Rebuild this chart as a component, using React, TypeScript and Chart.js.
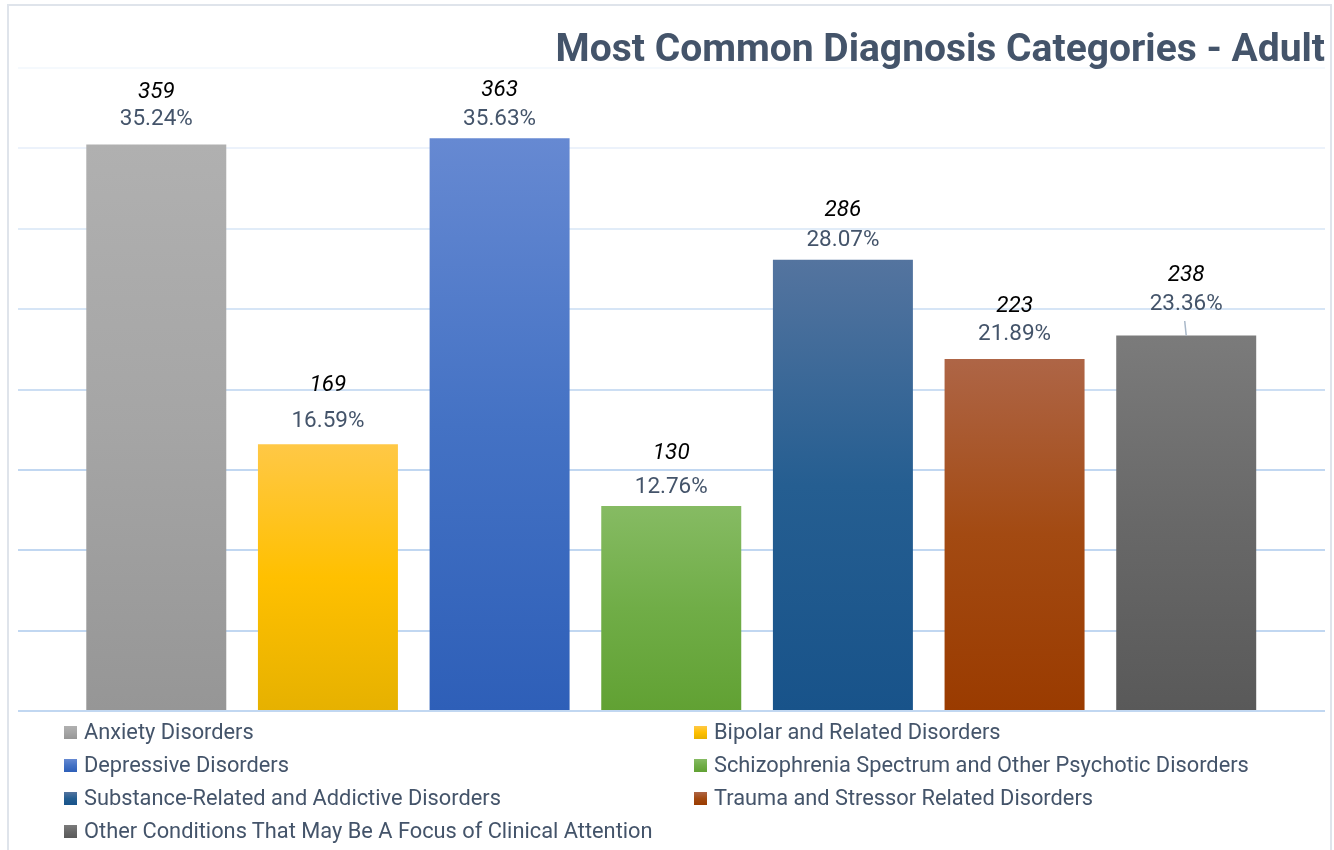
import React, { useEffect, useRef } from "react";
import { Chart, registerables } from "chart.js";

Chart.register(...registerables);

const TITLE = "Most Common Diagnosis Categories - Adult";

const CATEGORIES = [
  "Anxiety Disorders",
  "Bipolar and Related Disorders",
  "Depressive Disorders",
  "Schizophrenia Spectrum and Other Psychotic Disorders",
  "Substance-Related and Addictive Disorders",
  "Trauma and Stressor Related Disorders",
  "Other Conditions That May Be A Focus of Clinical Attention",
];

const COUNTS = [359, 169, 363, 130, 286, 223, 238];
const PERCENTS = [35.24, 16.59, 35.63, 12.76, 28.07, 21.89, 23.36];

const Y_MIN = 0;
const Y_MAX = 40;
const Y_STEP = 5;

// gradient stops per series: [top, middle, bottom]
const GRADIENTS = [
  ["#b0b0b0", "#a5a5a5", "#969696"],
  ["#ffc846", "#ffc000", "#e6b100"],
  ["#6689d2", "#4472c4", "#2e5fb8"],
  ["#86bb63", "#70ad47", "#61a133"],
  ["#54749f", "#255e91", "#18538a"],
  ["#ae6546", "#a34a12", "#9a3b00"],
  ["#7b7b7b", "#686868", "#595959"],
];

// label offsets above bar top (count, percent) in px
const COUNT_OFFSETS = [52.5, 59, 48, 53, 49, 53, 60];
const PCT_OFFSETS = [25.5, 23, 19, 19, 19, 25, 31.5];

const SLATE = "#44546a";
const FONT = "Roboto, 'Open Sans', sans-serif";

const labelPlugin = {
  id: "barLabels",
  afterDatasetsDraw(chart: any) {
    const ctx = chart.ctx;
    ctx.save();
    chart.data.datasets.forEach((_ds: any, i: number) => {
      const meta = chart.getDatasetMeta(i);
      const el = meta.data[0];
      if (!el) return;
      const x = el.x;
      const top = el.y;
      ctx.textAlign = "center";
      ctx.textBaseline = "middle";
      ctx.fillStyle = "#000000";
      ctx.font = `italic 22.5px ${FONT}`;
      ctx.fillText(String(COUNTS[i]), x, top - COUNT_OFFSETS[i]);
      ctx.fillStyle = SLATE;
      ctx.font = `22.5px ${FONT}`;
      ctx.fillText(PERCENTS[i].toFixed(2) + "%", x, top - PCT_OFFSETS[i]);
      if (i === 6) {
        ctx.strokeStyle = "#a9b8c9";
        ctx.lineWidth = 1.5;
        ctx.beginPath();
        ctx.moveTo(x - 1.5, top - 14.5);
        ctx.lineTo(x, top);
        ctx.stroke();
      }
    });
    ctx.restore();
  },
};

function ChartCanvas() {
  const ref = useRef<HTMLCanvasElement | null>(null);
  useEffect(() => {
    if (!ref.current) return;
    const datasets = CATEGORIES.map((name, i) => ({
      label: name,
      data: [PERCENTS[i]],
      borderWidth: 0,
      backgroundColor: (c: any) => {
        const chart = c.chart;
        const ys = chart.scales && chart.scales.y;
        const stops = GRADIENTS[i];
        if (!ys || !chart.chartArea) return stops[1];
        const v = c.raw ?? PERCENTS[i];
        const top = ys.getPixelForValue(v);
        const bottom = ys.getPixelForValue(0);
        const g = chart.ctx.createLinearGradient(0, top, 0, bottom);
        g.addColorStop(0, stops[0]);
        g.addColorStop(0.5, stops[1]);
        g.addColorStop(1, stops[2]);
        return g;
      },
    }));
    const chart = new Chart(ref.current, {
      type: "bar",
      data: { labels: [""], datasets },
      options: {
        responsive: false,
        animation: false,
        devicePixelRatio: 1,
        categoryPercentage: 0.919,
        barPercentage: 0.8155,
        layout: { padding: { left: 17.5, right: 9, top: 68, bottom: 139 } },
        plugins: {
          legend: { display: false },
          title: { display: false },
          tooltip: { enabled: false },
        },
        scales: {
          x: { display: false },
          y: {
            min: Y_MIN,
            max: Y_MAX,
            ticks: { display: false, stepSize: Y_STEP },
            border: { display: false },
            grid: {
              drawTicks: false,
              tickLength: 0,
              lineWidth: 2,
              color: (c: any) => {
                const v = c.tick ? c.tick.value : 0;
                const t = v / Y_MAX;
                const a = v <= 15 ? 0.95 : Math.max(0.15, 0.95 - (t - 0.375) * 1.3);
                return `rgba(190, 213, 240, ${a})`;
              },
            },
          },
        },
      } as any,
      plugins: [labelPlugin],
    });
    return () => chart.destroy();
  }, []);
  return (
    <canvas
      ref={ref}
      width={1334}
      height={850}
      style={{ position: "absolute", left: 0, top: 0, width: 1334, height: 850 }}
    />
  );
}

export default function App() {
  const legendPos = CATEGORIES.map((_c, i) => ({
    left: i % 2 === 0 ? 64 : 694,
    top: 732 + Math.floor(i / 2) * 33,
  }));
  return (
    <div
      style={{
        position: "fixed",
        left: 0,
        top: 0,
        width: 1334,
        height: 850,
        overflow: "hidden",
        background: "#ffffff",
        fontFamily: FONT,
      }}
    >
      <div
        style={{
          position: "absolute",
          left: 7,
          top: 4,
          width: 1321,
          height: 900,
          border: "2px solid #dfe4eb",
        }}
      />
      <ChartCanvas />
      <div
        style={{
          position: "absolute",
          right: 1334 - 1325,
          top: 29,
          fontSize: 39,
          lineHeight: "39px",
          fontWeight: 700,
          color: SLATE,
          whiteSpace: "nowrap",
        }}
      >
        {TITLE}
      </div>
      {CATEGORIES.map((name, i) => {
        const g = GRADIENTS[i];
        return (
          <div
            key={name}
            style={{
              position: "absolute",
              left: legendPos[i].left,
              top: legendPos[i].top - 15,
              height: 30,
              display: "flex",
              alignItems: "center",
              whiteSpace: "nowrap",
            }}
          >
            <span
              style={{
                display: "inline-block",
                width: 13,
                height: 13,
                marginRight: 7,
                background: `linear-gradient(${g[0]}, ${g[1]}, ${g[2]})`,
              }}
            />
            <span style={{ fontSize: 21.8, color: SLATE, lineHeight: "30px" }}>{name}</span>
          </div>
        );
      })}
    </div>
  );
}
